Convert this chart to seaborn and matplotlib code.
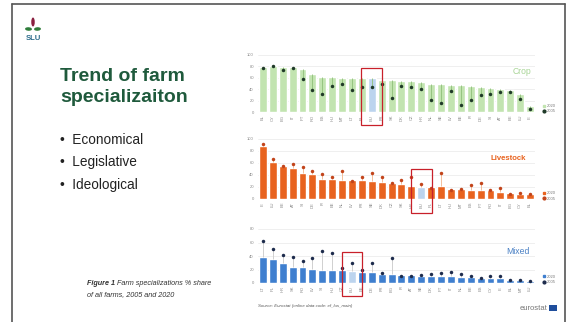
import matplotlib
matplotlib.use("Agg")
import matplotlib.pyplot as plt
from matplotlib.patches import Rectangle, Ellipse
from matplotlib.lines import Line2D
import seaborn as sns
import pandas as pd

sns.set_theme(style="white")
plt.rcParams['font.family'] = ['Liberation Sans', 'DejaVu Sans']

# ---------------- data ----------------
crop_countries = ['EL', 'CY', 'BG', 'IT', 'PT', 'RO', 'ES', 'HU', 'MT', 'LT', 'PL', 'EU', 'FR', 'SK',
                  'DK', 'CZ', 'HR', 'NL', 'SE', 'LV', 'EE', 'FI', 'DE', 'SI', 'AT', 'BE', 'LU', 'IE']
crop_2020 = [79, 81, 79, 79, 75, 66, 62, 61, 60, 59, 59, 59, 57, 56,
             55, 55, 53, 50, 49, 48, 47, 45, 44, 42, 40, 39, 31, 10]
crop_2005 = [77, 81, 73, 78, 58, 39, 31, 45, 49, 38, 44, 44, 50, 25,
             45, 43, 40, 21, 16, 36, 13, 21, 30, 31, 35, 35, 23, 5]

live_countries = ['IE', 'LU', 'BE', 'AT', 'SI', 'DE', 'FI', 'EE', 'NL', 'LV', 'FR', 'SE', 'DK', 'CZ',
                  'SK', 'HR', 'EU', 'PL', 'LT', 'HU', 'MT', 'ES', 'PT', 'RO', 'IT', 'BG', 'CY', 'EL']
live_2020 = [88, 61, 55, 52, 44, 41, 34, 33, 32, 31, 31, 30, 29, 27,
             25, 22, 20, 20, 21, 16, 16, 15, 15, 15, 12, 10, 9, 9]
live_2005 = [92, 66, 55, 58, 53, 47, 42, 36, 46, 30, 36, 44, 36, 27,
             32, 37, 25, 19, 44, 15, 17, 24, 26, 15, 19, 9, 10, 9]

mixed_countries = ['LT', 'PL', 'HR', 'SK', 'RO', 'LV', 'SI', 'HU', 'CZ', 'EU', 'EE', 'DE', 'FR', 'BG',
                   'FI', 'AT', 'SE', 'DK', 'PT', 'IT', 'NL', 'BE', 'ES', 'CY', 'IE', 'EL', 'MT', 'LU']
mixed_2020 = [38, 35, 29, 24, 24, 21, 19, 19, 19, 18, 16, 16, 13, 13,
              12, 12, 11, 11, 10, 10, 9, 9, 8, 8, 7, 5, 4, 3]
mixed_2005 = [62, 50, 42, 38, 33, 37, 47, 44, 22, 30, 20, 30, 15, 37,
              11, 11, 12, 14, 15, 16, 13, 11, 7, 10, 11, 5, 4, 3]

panels = [
    dict(name='Crop', countries=crop_countries, v20=crop_2020, v05=crop_2005,
         bar='#c2e4b0', dot='#1f3a28', stem='#8fbf7a', title_col='#a8d596',
         ymax=100, ticks=[0, 20, 40, 60, 80, 100], px=(55, 112),
         title_xy=(522, 71), box=(77, -23), weight='normal', tsize=6.2),
    dict(name='Livestock', countries=live_countries, v20=live_2020, v05=live_2005,
         bar='#e8631f', dot='#c2441a', stem='#f3b58c', title_col='#e8631f',
         ymax=100, ticks=[0, 20, 40, 60, 80, 100], px=(139, 199),
         title_xy=(508, 159), box=(50, -23), weight='bold', tsize=5.6),
    dict(name='Mixed', countries=mixed_countries, v20=mixed_2020, v05=mixed_2005,
         bar='#3f7fcf', dot='#1d2b4c', stem='#c9c9c9', title_col='#4a80c4',
         ymax=80, ticks=[0, 20, 40, 60, 80], px=(229, 283),
         title_xy=(518, 251), box=(46, -19), weight='normal', tsize=6.2),
]
EU_COLOR = '#bcd4ee'

W, H = 567, 322
fig = plt.figure(figsize=(W / 100, H / 100), dpi=100)
fig.patch.set_facecolor('white')

left_px, right_px = 258, 535
for p in panels:
    top_px, bot_px = p['px']
    ax = fig.add_axes([left_px / W, 1 - bot_px / H, (right_px - left_px) / W, (bot_px - top_px) / H])
    df = pd.DataFrame({'country': p['countries'], 'v2020': p['v20'], 'v2005': p['v05']})
    df['grp'] = ['EU' if c == 'EU' else 'other' for c in df['country']]
    n = len(df)
    ax.vlines(range(n), df['v2020'], df['v2005'], color=p['stem'], lw=0.6, zorder=2)
    sns.barplot(data=df, x='country', y='v2020', hue='grp',
                palette={'EU': EU_COLOR, 'other': p['bar']}, dodge=False,
                legend=False, width=0.8, ax=ax, zorder=1, saturation=1)
    sns.stripplot(data=df, x='country', y='v2005', jitter=False, color=p['dot'],
                  size=2.5, ax=ax, zorder=3, linewidth=0)
    ax.set_xlim(-0.5, n - 0.5)
    ax.set_ylim(0, p['ymax'])
    ax.set_yticks(p['ticks'])
    ax.yaxis.grid(True, color='#e9e9e9', lw=0.5)
    ax.set_axisbelow(True)
    for s in ax.spines.values():
        s.set_visible(False)
    ax.set_xlabel('')
    ax.set_ylabel('')
    ax.tick_params(axis='y', labelsize=3, colors='#888888', length=0, pad=3)
    ax.tick_params(axis='x', labelsize=3, colors='#888888', length=0, pad=2, rotation=90)
    # legend
    handles = [Line2D([], [], marker='s', ls='', color=p['bar'], markersize=2),
               Line2D([], [], marker='o', ls='', color=p['dot'], markersize=2)]
    leg = ax.legend(handles, ['2020', '2005'], loc='lower left', bbox_to_anchor=(1.02, -0.06),
                    frameon=False, fontsize=3, handlelength=0.6, handletextpad=0.3,
                    labelspacing=0.3, borderpad=0)
    for t in leg.get_texts():
        t.set_color('#777777')
    # title
    fig.text(p['title_xy'][0] / W, 1 - p['title_xy'][1] / H, p['name'], color=p['title_col'],
             fontsize=p['tsize'], ha='center', va='center', weight=p['weight'])
    # red highlight box around EU
    eu = p['countries'].index('EU')
    btop, bbot = p['box']
    ax.add_patch(Rectangle((eu - 1.05, bbot), 2.1, btop - bbot, fill=False, ec='#c8202a',
                           lw=0.9, clip_on=False, zorder=5))

# source + eurostat logo
fig.text(258 / W, 1 - 306 / H, 'Source: Eurostat (online data code: ef_lus_main)',
         fontsize=3.2, style='italic', color='#555555', va='center')
fig.text(548 / W, 1 - 308 / H, 'eurostat', fontsize=5.5, color='#777777', ha='right', va='center')
fig.patches.append(Rectangle((549 / W, 1 - 311 / H), 8 / W, 6 / H, transform=fig.transFigure,
                             fc='#1f4e9c', ec='none'))

# slide frame
fig.add_artist(Line2D([12 / W, 565 / W], [1 - 4 / H, 1 - 4 / H], color='#555555', lw=1.2))
fig.add_artist(Line2D([12 / W, 12 / W], [1 - 4 / H, 0], color='#555555', lw=1.2))
fig.add_artist(Line2D([565 / W, 565 / W], [1 - 4 / H, 0], color='#555555', lw=1.2))

# SLU logo
fig.text(33 / W, 1 - 38 / H, 'SLU', fontsize=5.5, weight='bold', color='#2a6a8a',
         ha='center', va='center')
fig.patches.append(Ellipse((33 / W, 1 - 22 / H), 3.5 / W, 9 / H, transform=fig.transFigure,
                           fc='#8a2040', ec='none'))
fig.patches.append(Ellipse((28.5 / W, 1 - 29 / H), 7 / W, 3.5 / H, angle=-20,
                           transform=fig.transFigure, fc='#2e7d3a', ec='none'))
fig.patches.append(Ellipse((37.5 / W, 1 - 29 / H), 7 / W, 3.5 / H, angle=20,
                           transform=fig.transFigure, fc='#2e7d3a', ec='none'))

# slide text
fig.text(60 / W, 1 - 77 / H, 'Trend of farm', fontsize=14, weight='bold', color='#1f5a3c',
         va='center')
fig.text(60 / W, 1 - 98 / H, 'specializaiton', fontsize=14, weight='bold', color='#1f5a3c',
         va='center')
for txt, y in [('Economical', 140), ('Legislative', 162), ('Ideological', 185)]:
    fig.text(60 / W, 1 - y / H, '\u2022  ' + txt, fontsize=9.8, color='#222222', va='center')

t1 = fig.text(87 / W, 1 - 285 / H, 'Figure 1', fontsize=5.2, weight='bold', style='italic',
              color='#333333', va='baseline')
fig.text(0, 0, ' Farm specializations % share', fontsize=5.2, style='italic', color='#333333',
         va='baseline', transform=matplotlib.transforms.offset_copy(
             fig.transFigure, fig=fig, x=0, y=0))
fig.texts[-1].remove()
fig.add_artist(matplotlib.text.Annotation(' Farm specializations % share', xy=(1, 0),
                                          xycoords=t1, va='bottom', ha='left', fontsize=5.2,
                                          style='italic', color='#333333'))
fig.text(87 / W, 1 - 296 / H, 'of all farms, 2005 and 2020', fontsize=5.2, style='italic',
         color='#333333', va='baseline')

fig.savefig('out.png', dpi=100, facecolor='white')
